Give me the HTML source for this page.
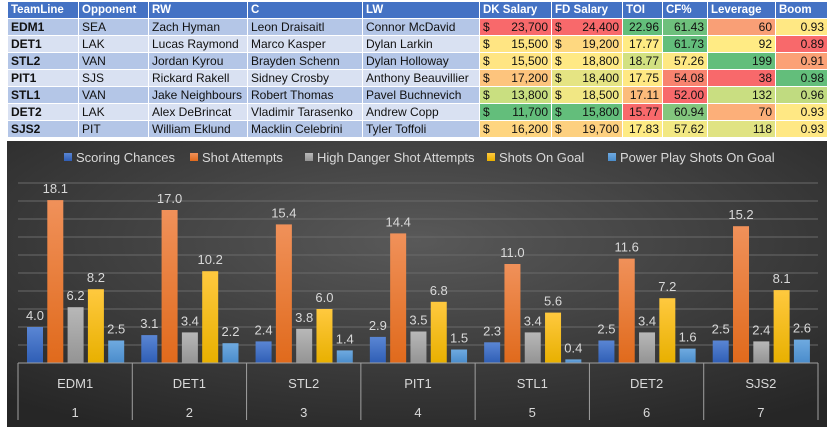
<!DOCTYPE html>
<html><head><meta charset="utf-8">
<style>
body{margin:0;width:833px;height:432px;background:#fff;overflow:hidden;font-family:"Liberation Sans",sans-serif;position:relative}
table{position:absolute;left:7px;top:1px;border-collapse:collapse;table-layout:fixed;width:820px;font-size:12px}
td,th{border:1px solid #fff;height:16px;line-height:15px;padding:0 3px;white-space:nowrap;overflow:hidden;text-align:left;color:#111}
th{background:#4472c4;color:#fff;font-weight:bold;font-size:11.5px}
tr.a td{background:#b4c6e7}tr.b td{background:#d9e1f2}
td.t{font-weight:bold}
td.n{text-align:right}
td.m span{float:left}
#chart{position:absolute;left:7px;top:141px}
</style></head><body>
<table>
<colgroup><col style="width:71px"><col style="width:70px"><col style="width:99px"><col style="width:115px"><col style="width:117px"><col style="width:72px"><col style="width:71px"><col style="width:40px"><col style="width:45px"><col style="width:68px"><col style="width:52px"></colgroup>
<tr><th>TeamLine</th><th>Opponent</th><th>RW</th><th>C</th><th>LW</th><th>DK Salary</th><th>FD Salary</th><th>TOI</th><th>CF%</th><th>Leverage</th><th>Boom</th></tr>
<tr class="a"><td class="t">EDM1</td><td>SEA</td><td>Zach Hyman</td><td>Leon Draisaitl</td><td>Connor McDavid</td><td class="n m" style="background:#f8696b"><span>$</span>23,700</td><td class="n m" style="background:#f8696b"><span>$</span>24,400</td><td class="n" style="background:#63be7b">22.96</td><td class="n" style="background:#6ec07c">61.43</td><td class="n" style="background:#f99f76">60</td><td class="n" style="background:#ffe884">0.93</td></tr>
<tr class="b"><td class="t">DET1</td><td>LAK</td><td>Lucas Raymond</td><td>Marco Kasper</td><td>Dylan Larkin</td><td class="n m" style="background:#ffe583"><span>$</span>15,500</td><td class="n m" style="background:#fed880"><span>$</span>19,200</td><td class="n" style="background:#ffeb84">17.77</td><td class="n" style="background:#63be7b">61.73</td><td class="n" style="background:#ffeb84">92</td><td class="n" style="background:#f8696b">0.89</td></tr>
<tr class="a"><td class="t">STL2</td><td>VAN</td><td>Jordan Kyrou</td><td>Brayden Schenn</td><td>Dylan Holloway</td><td class="n m" style="background:#ffe583"><span>$</span>15,500</td><td class="n m" style="background:#ffe984"><span>$</span>18,800</td><td class="n" style="background:#d2e181">18.77</td><td class="n" style="background:#fee883">57.26</td><td class="n" style="background:#63be7b">199</td><td class="n" style="background:#fba176">0.91</td></tr>
<tr class="b"><td class="t">PIT1</td><td>SJS</td><td>Rickard Rakell</td><td>Sidney Crosby</td><td>Anthony Beauvillier</td><td class="n m" style="background:#fdc47d"><span>$</span>17,200</td><td class="n m" style="background:#e5e483"><span>$</span>18,400</td><td class="n" style="background:#ffe883">17.75</td><td class="n" style="background:#f8836f">54.08</td><td class="n" style="background:#f8696b">38</td><td class="n" style="background:#63be7b">0.98</td></tr>
<tr class="a"><td class="t">STL1</td><td>VAN</td><td>Jake Neighbours</td><td>Robert Thomas</td><td>Pavel Buchnevich</td><td class="n m" style="background:#c9df80"><span>$</span>13,800</td><td class="n m" style="background:#f1e784"><span>$</span>18,500</td><td class="n" style="background:#fcbb7b">17.11</td><td class="n" style="background:#f8696b">52.00</td><td class="n" style="background:#c9de81">132</td><td class="n" style="background:#c0db80">0.96</td></tr>
<tr class="b"><td class="t">DET2</td><td>LAK</td><td>Alex DeBrincat</td><td>Vladimir Tarasenko</td><td>Andrew Copp</td><td class="n m" style="background:#63be7b"><span>$</span>11,700</td><td class="n m" style="background:#63be7b"><span>$</span>15,800</td><td class="n" style="background:#f8696b">15.77</td><td class="n" style="background:#83c67d">60.94</td><td class="n" style="background:#fcaf79">70</td><td class="n" style="background:#ffe884">0.93</td></tr>
<tr class="a"><td class="t">SJS2</td><td>PIT</td><td>William Eklund</td><td>Macklin Celebrini</td><td>Tyler Toffoli</td><td class="n m" style="background:#fed580"><span>$</span>16,200</td><td class="n m" style="background:#fdd07f"><span>$</span>19,700</td><td class="n" style="background:#feeb84">17.83</td><td class="n" style="background:#f2e883">57.62</td><td class="n" style="background:#e0e383">118</td><td class="n" style="background:#ffe884">0.93</td></tr>
</table>
<svg id="chart" width="820" height="286">
<defs>
<radialGradient id="bg" cx="50%" cy="35%" r="75%"><stop offset="0" stop-color="#595959"/><stop offset="1" stop-color="#262626"/></radialGradient>
<linearGradient id="g0" x1="0" y1="0" x2="0" y2="1"><stop offset="0" stop-color="#5a86d4"/><stop offset="1" stop-color="#2f5eb5"/></linearGradient>
<linearGradient id="g1" x1="0" y1="0" x2="0" y2="1"><stop offset="0" stop-color="#f0915a"/><stop offset="1" stop-color="#e06a1c"/></linearGradient>
<linearGradient id="g2" x1="0" y1="0" x2="0" y2="1"><stop offset="0" stop-color="#b8b8b8"/><stop offset="1" stop-color="#949494"/></linearGradient>
<linearGradient id="g3" x1="0" y1="0" x2="0" y2="1"><stop offset="0" stop-color="#ffc93f"/><stop offset="1" stop-color="#e8b000"/></linearGradient>
<linearGradient id="g4" x1="0" y1="0" x2="0" y2="1"><stop offset="0" stop-color="#6faae0"/><stop offset="1" stop-color="#4a8ccb"/></linearGradient>
</defs>
<rect width="820" height="286" fill="url(#bg)"/>
<g id="grid"></g><g id="bars"></g><g id="axis"></g><g id="legend"></g>
</svg>
<script>
const categories=["EDM1","DET1","STL2","PIT1","STL1","DET2","SJS2"];
const ranks=["1","2","3","4","5","6","7"];
const seriesNames=["Scoring Chances","Shot Attempts","High Danger Shot Attempts","Shots On Goal","Power Play Shots On Goal"];
const scoringChances=[4.0,3.1,2.4,2.9,2.3,2.5,2.5];
const shotAttempts=[18.1,17.0,15.4,14.4,11.0,11.6,15.2];
const highDanger=[6.2,3.4,3.8,3.5,3.4,3.4,2.4];
const shotsOnGoal=[8.2,10.2,6.0,6.8,5.6,7.2,8.1];
const ppShots=[2.5,2.2,1.4,1.5,0.4,1.6,2.6];
const series=[scoringChances,shotAttempts,highDanger,shotsOnGoal,ppShots];
const NS="http://www.w3.org/2000/svg";
const x0=11,x1=811,base=222,pxPerUnit=9.0,yMax=20;
const gw=(x1-x0)/categories.length;
const y=v=>base-v*pxPerUnit;
function mk(tag,attrs,parent){const e=document.createElementNS(NS,tag);for(const k in attrs)e.setAttribute(k,attrs[k]);parent.appendChild(e);return e;}
const grid=document.getElementById('grid'),bars=document.getElementById('bars'),axis=document.getElementById('axis'),legend=document.getElementById('legend');
for(let v=2;v<=yMax;v+=2){const l=mk('line',{x1:x0,x2:x1,y1:y(v),y2:y(v),stroke:'#6a6a6a','stroke-width':1},grid);

}
series.forEach((s,si)=>{s.forEach((v,ci)=>{
const bx=x0+ci*gw+9+si*20.3;
const r=mk('rect',{x:bx,y:y(v),width:16,height:v*pxPerUnit,fill:'url(#g'+si+')'},bars);


const t=mk('text',{x:bx+8,y:y(v)-7,'text-anchor':'middle','font-size':13,fill:'#d9d9d9'},bars);t.textContent=v.toFixed(1);

});});
mk('line',{x1:x0,x2:x1,y1:base,y2:base,stroke:'#a0a0a0'},axis);
for(let i=0;i<=categories.length;i++){const l=mk('line',{x1:x0+i*gw,x2:x0+i*gw,y1:base,y2:279,stroke:'#a0a0a0'},axis);

}
categories.forEach((c,i)=>{const t=mk('text',{x:x0+(i+0.5)*gw,y:247,'text-anchor':'middle','font-size':13,fill:'#d9d9d9'},axis);t.textContent=c;


const r=mk('text',{x:x0+(i+0.5)*gw,y:276,'text-anchor':'middle','font-size':13,fill:'#d9d9d9'},axis);r.textContent=ranks[i];

});
const lx=[57,183,298,480,601];
seriesNames.forEach((n,i)=>{const g=mk('g',{},legend);


mk('rect',{x:lx[i],y:12,width:8,height:8,fill:'url(#g'+i+')'},g);
const t=mk('text',{x:lx[i]+12,y:21,'font-size':13,fill:'#d9d9d9'},g);t.textContent=n;});
</script>
</body></html>
